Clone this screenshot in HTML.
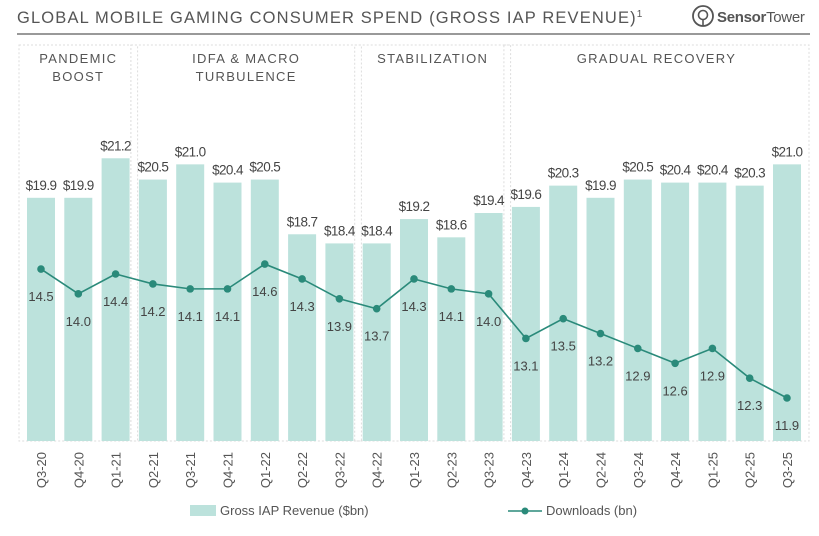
<!DOCTYPE html>
<html><head><meta charset="utf-8"><style>
body{margin:0;background:#fff;width:819px;height:531px;overflow:hidden;font-family:"Liberation Sans",sans-serif}
</style></head><body>
<svg id="c" width="819" height="531" xmlns="http://www.w3.org/2000/svg">
<text x="17" y="23" font-size="16.5" fill="#555" letter-spacing="1.15">GLOBAL MOBILE GAMING CONSUMER SPEND (GROSS IAP REVENUE)<tspan font-size="10" dy="-6">1</tspan></text>
<g>
<circle cx="703" cy="16" r="10" fill="none" stroke="#555" stroke-width="1.8"/>
<circle cx="703" cy="15" r="4.5" fill="none" stroke="#555" stroke-width="1.6"/>
<line x1="703" y1="19" x2="703" y2="26" stroke="#555" stroke-width="1.6"/>
<text x="717" y="22" font-size="15" fill="#555" font-weight="bold" letter-spacing="-0.3">Sensor<tspan font-weight="normal">Tower</tspan></text>
</g>
<line x1="17" y1="34" x2="810" y2="34" stroke="#999" stroke-width="2"/>
<g id="panels"></g>
<g id="bars"></g>
<g id="line"></g>
<g id="xl"></g>
<g>
<rect x="190" y="505" width="26" height="11" fill="#bce2dc"/>
<text x="220" y="515" font-size="13" fill="#555">Gross IAP Revenue ($bn)</text>
<line x1="508" y1="511" x2="542" y2="511" stroke="#2a8a7a" stroke-width="1.6"/>
<circle cx="525" cy="511" r="3.5" fill="#2a8a7a"/>
<text x="546" y="515" font-size="13" fill="#555">Downloads (bn)</text>
</g>
</svg>
<script>
const categories=["Q3-20","Q4-20","Q1-21","Q2-21","Q3-21","Q4-21","Q1-22","Q2-22","Q3-22","Q4-22","Q1-23","Q2-23","Q3-23","Q4-23","Q1-24","Q2-24","Q3-24","Q4-24","Q1-25","Q2-25","Q3-25"];
const revenue=[19.9,19.9,21.2,20.5,21.0,20.4,20.5,18.7,18.4,18.4,19.2,18.6,19.4,19.6,20.3,19.9,20.5,20.4,20.4,20.3,21.0];
const downloads=[14.5,14.0,14.4,14.2,14.1,14.1,14.6,14.3,13.9,13.7,14.3,14.1,14.0,13.1,13.5,13.2,12.9,12.6,12.9,12.3,11.9];
const phases=["PANDEMIC|BOOST","IDFA & MACRO|TURBULENCE","STABILIZATION","GRADUAL RECOVERY"];
const phaseStart=[0,3,9,13];
const phaseEnd=[2,8,12,20];
const NS="http://www.w3.org/2000/svg";
const x=i=>41+i*37.3;
const yR=v=>441-(v-11.9)*30.4;
const yD=v=>398-(v-11.9)*49.6;
function mk(t,a,p){const e=document.createElementNS(NS,t);for(const k in a)e.setAttribute(k,a[k]);p.appendChild(e);return e;}
const P=document.getElementById('panels'),B=document.getElementById('bars'),L=document.getElementById('line'),X=document.getElementById('xl');
phases.forEach((p,k)=>{
 const x0=x(phaseStart[k])-22,x1=x(phaseEnd[k])+22;
 const r=mk('rect',{x:x0,y:45,width:x1-x0,height:396,fill:'none',stroke:'#ddd','stroke-dasharray':'2,2'},P);
 
 
 p.split('|').forEach((s,j)=>{const t=mk('text',{x:(x0+x1)/2,y:63+j*18,'font-size':13,fill:'#555','text-anchor':'middle','letter-spacing':'1.3'},P);t.textContent=s;
 
 });
});
categories.forEach((c,i)=>{
 const r=mk('rect',{x:x(i)-14,y:yR(revenue[i]),width:28,height:441-yR(revenue[i]),fill:'#bce2dc'},B);
 
 
 const t=mk('text',{x:x(i),y:yR(revenue[i])-8,'font-size':13.5,fill:'#444','text-anchor':'middle','letter-spacing':'-0.6'},B);t.textContent='$'+revenue[i].toFixed(1);
 
 
 const xl=mk('text',{transform:`translate(${x(i)+5},452) rotate(-90)`,'font-size':13,fill:'#555','text-anchor':'end'},X);xl.textContent=c;
 
 
});
const pl=mk('polyline',{points:downloads.map((v,i)=>x(i)+','+yD(v)).join(' '),fill:'none',stroke:'#2a8a7a','stroke-width':1.6},L);


downloads.forEach((v,i)=>{
 const c=mk('circle',{cx:x(i),cy:yD(v),r:3.8,fill:'#2a8a7a'},L);
 
 
 const t=mk('text',{x:x(i),y:yD(v)+32,'font-size':13,fill:'#444','text-anchor':'middle'},L);t.textContent=v.toFixed(1);
 
 
});
</script>
</body></html>
